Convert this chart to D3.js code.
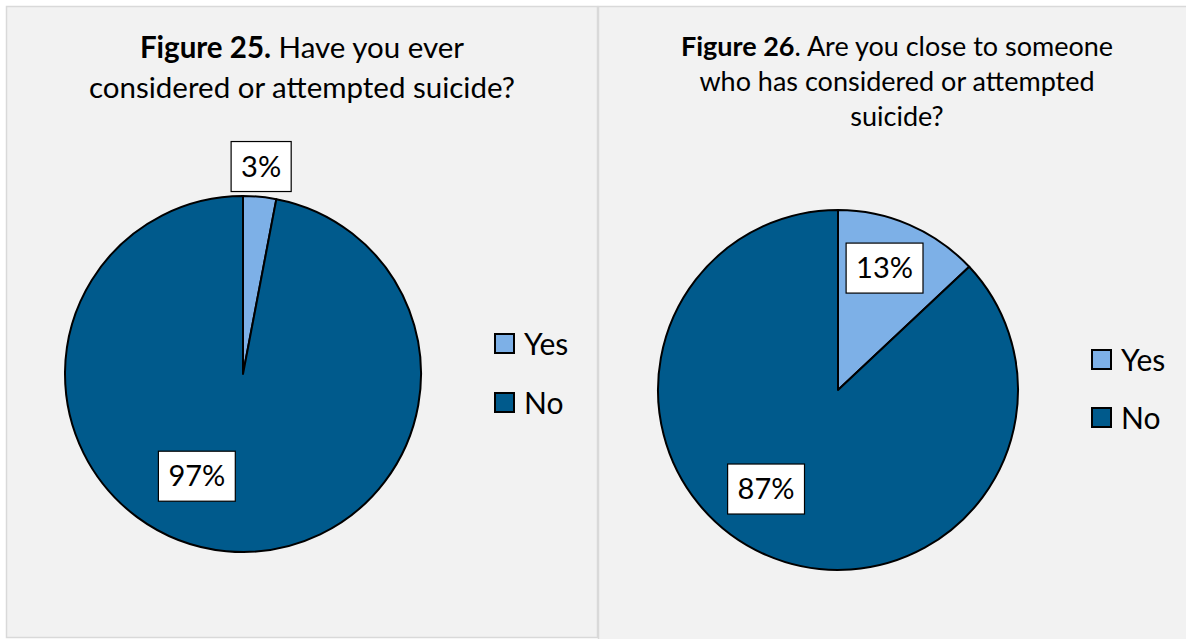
<!DOCTYPE html>
<html>
<head>
<meta charset="utf-8">
<script src="https://cdn.jsdelivr.net/npm/d3@7"></script>
<style>
  html, body { margin: 0; padding: 0; background: #ffffff; }
  svg { display: block; }
  text { font-family: Lato, "Open Sans", sans-serif; fill: #000; }
</style>
</head>
<body>
<svg id="chart" width="1186" height="639"></svg>
<script>
// ---- data ----
const categories = ["Yes", "No"];
const fig25Values = [3, 97];
const fig26Values = [13, 87];
const fig25Title = [["Figure 25.", " Have you ever"], ["", "considered or attempted suicide?"]];
const fig26Title = [["Figure 26", ". Are you close to someone"], ["", "who has considered or attempted"], ["", "suicide?"]];

// ---- styles / layout ----
const colors = ["#7db0e7", "#005a8c"];
const svg = d3.select("#chart");

// panels
svg.append("rect").attr("x", 6.5).attr("y", 6.5).attr("width", 591).attr("height", 631)
  .attr("fill", "#f2f2f2").attr("stroke", "#d9d9d9").attr("stroke-width", 1.5);
svg.append("rect").attr("x", 598.5).attr("y", 6.5).attr("width", 700).attr("height", 700)
  .attr("fill", "#f2f2f2").attr("stroke", "#d9d9d9").attr("stroke-width", 1.5);

const colorScale = d3.scaleOrdinal().domain(categories).range(colors);

function drawPanel(cfg) {
  const g = svg.append("g");
  // title
  cfg.title.forEach((line, i) => {
    const t = g.append("text").attr("x", cfg.titleX).attr("y", cfg.titleY + i * cfg.titleLH)
      .attr("text-anchor", "middle").style("font-size", cfg.titleSize + "px");
    if (line[0]) t.append("tspan").style("font-weight", "bold").text(line[0]);
    t.append("tspan").text(line[1]);
  });

  const pie = d3.pie().sort(null).value(d => d.value);
  const arcs = pie(categories.map((c, i) => ({cat: c, value: cfg.values[i]})));
  const arc = d3.arc().innerRadius(0).outerRadius(cfg.r);
  const pg = g.append("g").attr("transform", `translate(${cfg.cx},${cfg.cy})`);
  pg.selectAll("path").data(arcs).join("path")
    .attr("d", arc).attr("fill", d => colorScale(d.data.cat))
    .attr("stroke", "#000").attr("stroke-width", 2).attr("stroke-linejoin", "round");

  // labels
  arcs.forEach((d, i) => {
    const lp = cfg.labelPos[i];
    const a = lp.angle * Math.PI / 180;
    const x = Math.sin(a) * lp.rf * cfg.r, y = -Math.cos(a) * lp.rf * cfg.r;
    const lg = pg.append("g").attr("transform", `translate(${x},${y})`);
    const box = lg.append("rect");
    const t = lg.append("text").attr("text-anchor", "middle").attr("dy", "0.35em")
      .style("font-size", "29px").text(d.data.value + "%");
    const bb = t.node().getBBox();
    const w = bb.width + 20, h = 50;
    box.attr("x", -w / 2).attr("y", -h / 2).attr("width", w).attr("height", h)
      .attr("fill", "#fff").attr("stroke", "#000").attr("stroke-width", 1.2);
  });

  // legend
  const lg = g.append("g").attr("transform", `translate(${cfg.legX},${cfg.legY})`);
  categories.forEach((c, i) => {
    const row = lg.append("g").attr("transform", `translate(0,${i * cfg.legGap})`);
    row.append("rect").attr("x", 0).attr("y", -10).attr("width", 19).attr("height", 19)
      .attr("fill", colorScale(c)).attr("stroke", "#000").attr("stroke-width", 2);
    row.append("text").attr("x", 29).attr("y", 0).attr("dy", "0.35em")
      .style("font-size", "30px").text(c);
  });
}

drawPanel({
  values: fig25Values, title: fig25Title,
  titleX: 302, titleY: 58, titleLH: 40, titleSize: 29.5,
  cx: 243, cy: 374, r: 178,
  labelPos: [{angle: 5, rf: 1.17}, {angle: 204.3, rf: 0.63}],
  legX: 495, legY: 344, legGap: 59
});
drawPanel({
  values: fig26Values, title: fig26Title,
  titleX: 897, titleY: 56, titleLH: 35, titleSize: 27,
  cx: 838, cy: 390, r: 180,
  labelPos: [{angle: 20.9, rf: 0.725}, {angle: 216, rf: 0.68}],
  legX: 1092, legY: 360, legGap: 58
});
</script>
</body>
</html>
